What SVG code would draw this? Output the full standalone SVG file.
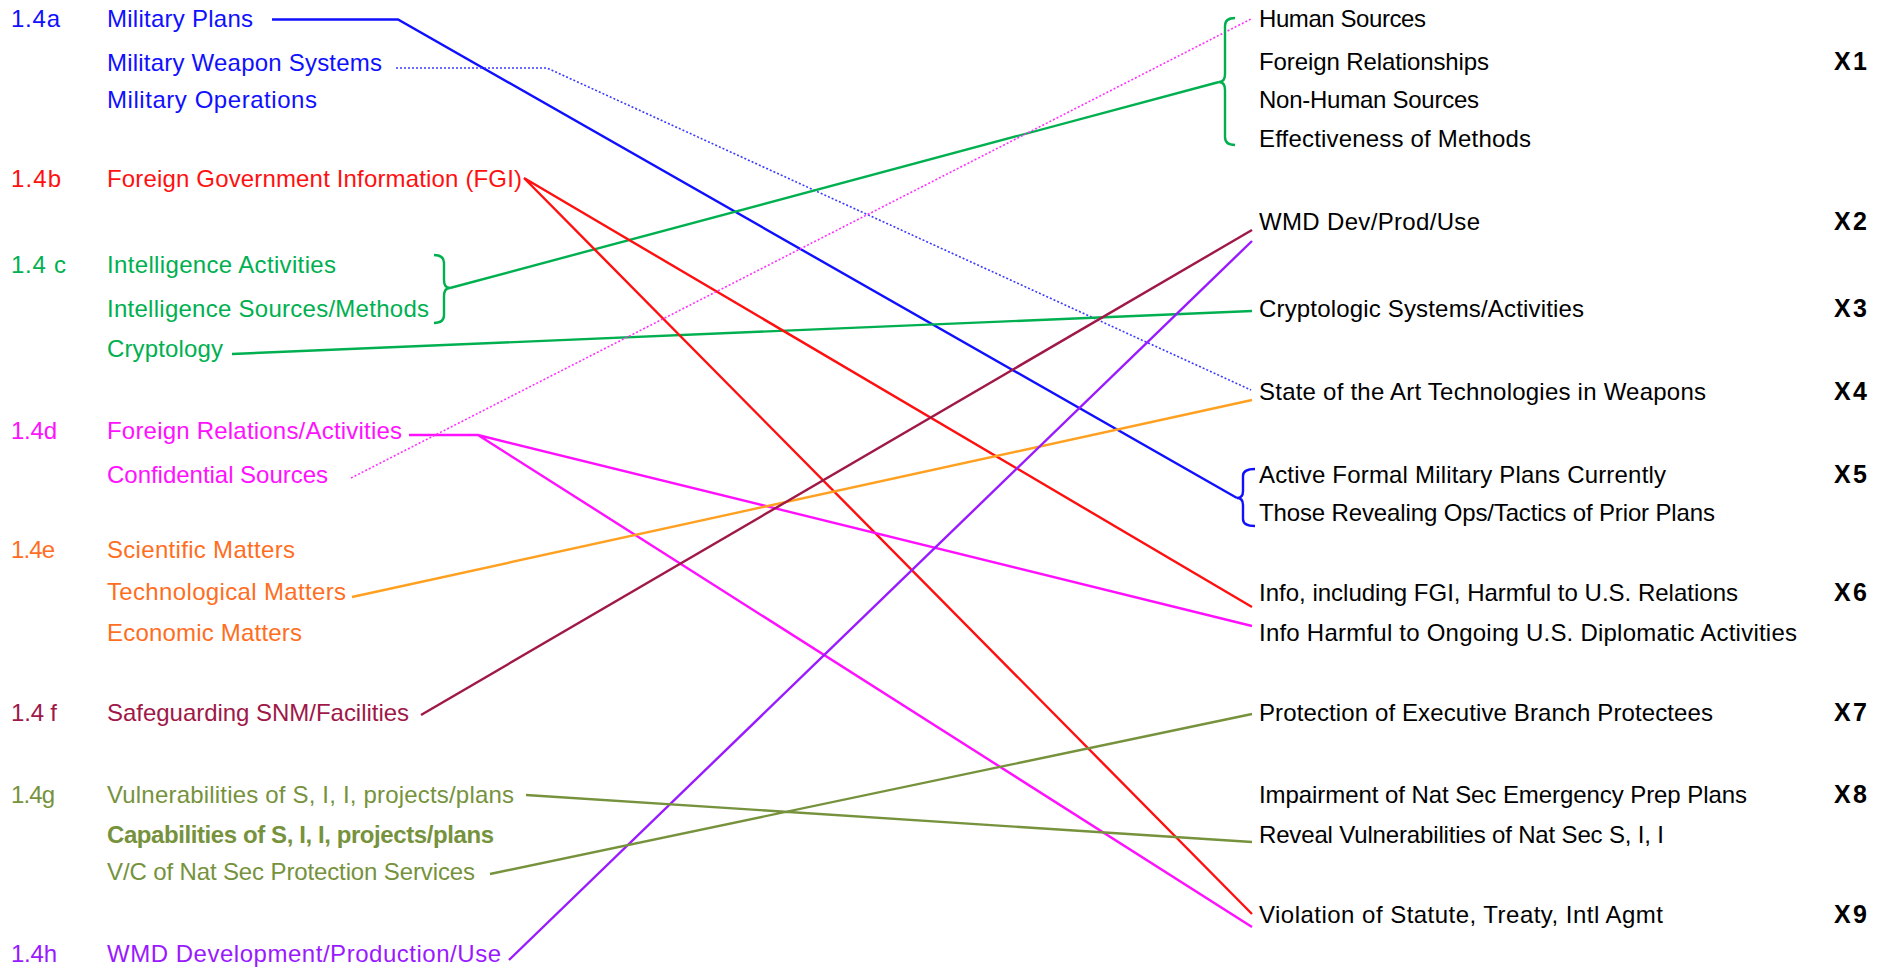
<svg xmlns="http://www.w3.org/2000/svg" width="1893" height="969" viewBox="0 0 1893 969">
<style>
text{font-family:"Liberation Sans",Arial,sans-serif;font-size:24px}
.x{font-weight:bold;font-size:25px;fill:#000}
.r{fill:#000}
.bl{fill:#1010ff}.rd{fill:#ff1010}.gr{fill:#00b050}.mg{fill:#ff10ff}.or{fill:#ff6e1e}.mr{fill:#a01848}.ol{fill:#76923c}.pu{fill:#9a1aff}
.c{fill:none;stroke-width:2.4}
.d{fill:none;stroke-width:1.6;stroke-dasharray:2 2}
</style>
<rect width="1893" height="969" fill="#fff"/>
<g id="connectors">
<path class="c" stroke="#1010ff" d="M272,19.5 H398 L1237,498"/>
<path class="d" stroke="#3a3aff" d="M396,68 H547 L1251,390"/>
<path class="c" stroke="#00b050" d="M450,288 L1219,82"/>
<path class="c" stroke="#00b050" d="M232,354 L1252,311"/>
<path class="c" stroke="#ff1010" d="M524,178 L1252,607 M524,178 L1252,914"/>
<path class="c" stroke="#ff10ff" d="M409,435 H478 L1252,626 M478,435 L1252,927"/>
<path class="d" stroke="#ff30ff" d="M351,478 L1251,19"/>
<path class="c" stroke="#ffa020" d="M352,597 L1252,400"/>
<path class="c" stroke="#a01848" d="M421,715 L1252,230"/>
<path class="c" stroke="#9a1aff" d="M509,960 L1252,241"/>
<path class="c" stroke="#76923c" d="M526,795 L1252,842 M490,874 L1252,714"/>
<path class="c" stroke="#00b050" d="M434,255 Q444,255 444,263 L444,280 Q444,288 450,288 Q444,288 444,296 L444,315 Q444,323 434,323"/>
<path class="c" stroke="#00b050" d="M1235,18 Q1225,18 1225,26 L1225,74 Q1225,82 1219,82 Q1225,82 1225,90 L1225,137 Q1225,145 1235,145"/>
<path class="c" stroke="#1010ff" d="M1255,469 Q1243,469 1243,476 L1243,491 Q1243,498 1237,498 Q1243,498 1243,505 L1243,519 Q1243,526 1255,526"/>
</g>
<g id="n14a" class="bl">
<text x="11" y="27" textLength="49">1.4a</text>
<text x="107" y="27" textLength="146">Military Plans</text>
<text x="107" y="71" textLength="275">Military Weapon Systems</text>
<text x="107" y="108" textLength="210">Military Operations</text>
</g>
<g id="n14b" class="rd">
<text x="11" y="187" textLength="50">1.4b</text>
<text x="107" y="187" textLength="415">Foreign Government Information (FGI)</text>
</g>
<g id="n14c" class="gr">
<text x="11" y="273" textLength="55">1.4 c</text>
<text x="107" y="273" textLength="229">Intelligence Activities</text>
<text x="107" y="317" textLength="322">Intelligence Sources/Methods</text>
<text x="107" y="357" textLength="116">Cryptology</text>
</g>
<g id="n14d" class="mg">
<text x="11" y="439" textLength="46">1.4d</text>
<text x="107" y="439" textLength="295">Foreign Relations/Activities</text>
<text x="107" y="483" textLength="221">Confidential Sources</text>
</g>
<g id="n14e" class="or">
<text x="11" y="558" textLength="44">1.4e</text>
<text x="107" y="558" textLength="188">Scientific Matters</text>
<text x="107" y="600" textLength="239">Technological Matters</text>
<text x="107" y="641" textLength="195">Economic Matters</text>
</g>
<g id="n14f" class="mr">
<text x="11" y="721" textLength="46">1.4 f</text>
<text x="107" y="721" textLength="302">Safeguarding SNM/Facilities</text>
</g>
<g id="n14g" class="ol">
<text x="11" y="803" textLength="44">1.4g</text>
<text x="107" y="803" textLength="407">Vulnerabilities of S, I, I, projects/plans</text>
<text x="107" y="843" textLength="387" font-weight="bold">Capabilities of S, I, I, projects/plans</text>
<text x="107" y="880" textLength="368">V/C of Nat Sec Protection Services</text>
</g>
<g id="n14h" class="pu">
<text x="11" y="962" textLength="46">1.4h</text>
<text x="107" y="962" textLength="394">WMD Development/Production/Use</text>
</g>
<g id="x1" class="r">
<text x="1259" y="27" textLength="167">Human Sources</text>
<text x="1259" y="70" textLength="230">Foreign Relationships</text>
<text x="1259" y="108" textLength="220">Non-Human Sources</text>
<text x="1259" y="147" textLength="272">Effectiveness of Methods</text>
<text class="x" x="1834" y="70" textLength="33">X1</text>
</g>
<g id="x2" class="r">
<text x="1259" y="230" textLength="221">WMD Dev/Prod/Use</text>
<text class="x" x="1834" y="230" textLength="33">X2</text>
</g>
<g id="x3" class="r">
<text x="1259" y="317" textLength="325">Cryptologic Systems/Activities</text>
<text class="x" x="1834" y="317" textLength="33">X3</text>
</g>
<g id="x4" class="r">
<text x="1259" y="400" textLength="447">State of the Art Technologies in Weapons</text>
<text class="x" x="1834" y="400" textLength="33">X4</text>
</g>
<g id="x5" class="r">
<text x="1259" y="483" textLength="407">Active Formal Military Plans Currently</text>
<text x="1259" y="521" textLength="456">Those Revealing Ops/Tactics of Prior Plans</text>
<text class="x" x="1834" y="483" textLength="33">X5</text>
</g>
<g id="x6" class="r">
<text x="1259" y="601" textLength="479">Info, including FGI, Harmful to U.S. Relations</text>
<text x="1259" y="641" textLength="538">Info Harmful to Ongoing U.S. Diplomatic Activities</text>
<text class="x" x="1834" y="601" textLength="33">X6</text>
</g>
<g id="x7" class="r">
<text x="1259" y="721" textLength="454">Protection of Executive Branch Protectees</text>
<text class="x" x="1834" y="721" textLength="33">X7</text>
</g>
<g id="x8" class="r">
<text x="1259" y="803" textLength="488">Impairment of Nat Sec Emergency Prep Plans</text>
<text x="1259" y="843" textLength="405">Reveal Vulnerabilities of Nat Sec S, I, I</text>
<text class="x" x="1834" y="803" textLength="33">X8</text>
</g>
<g id="x9" class="r">
<text x="1259" y="923" textLength="404">Violation of Statute, Treaty, Intl Agmt</text>
<text class="x" x="1834" y="923" textLength="33">X9</text>
</g>
</svg>
